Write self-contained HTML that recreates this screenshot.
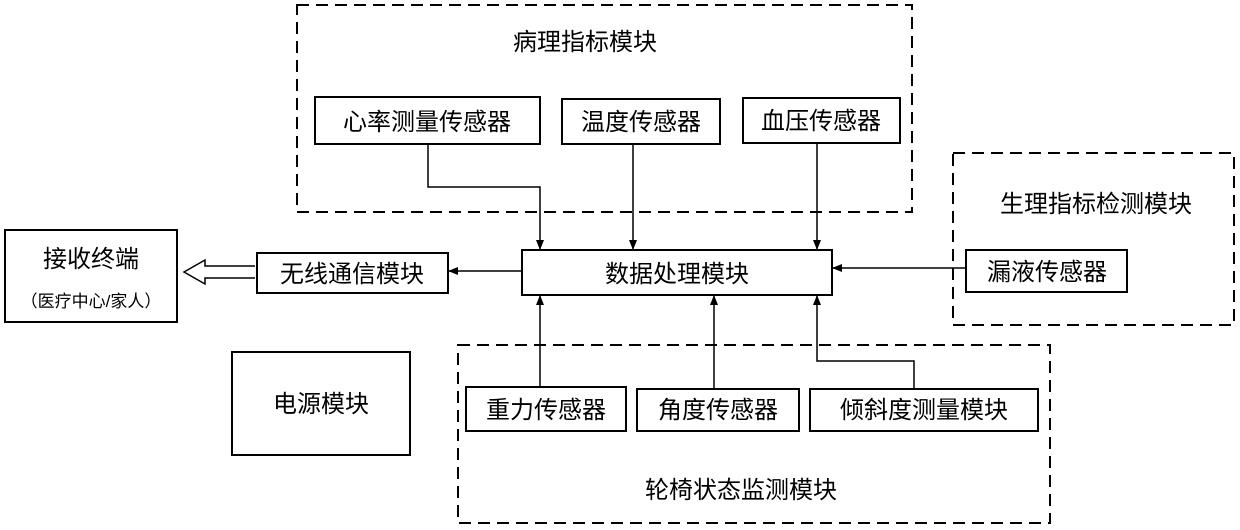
<!DOCTYPE html>
<html><head><meta charset="utf-8"><style>
html,body{margin:0;padding:0;background:#fff;}
svg{display:block;}
text{font-family:"Liberation Sans","Noto Sans CJK SC",sans-serif;fill:#000;}
</style></head><body>
<svg width="1240" height="530" viewBox="0 0 1240 530" xmlns="http://www.w3.org/2000/svg">
<defs>
<marker id="a" markerWidth="10" markerHeight="10" refX="9" refY="5" orient="auto" markerUnits="userSpaceOnUse">
<path d="M0,1 L10,5 L0,9 Z" fill="#000"/></marker>
</defs>
<g fill="none" stroke="#000" stroke-width="2">
<rect x="297" y="5" width="615" height="207" stroke-dasharray="12,7"/>
<rect x="953" y="153" width="281" height="172" stroke-dasharray="12,7"/>
<rect x="458" y="345" width="592" height="178" stroke-dasharray="12,7"/>
<rect x="5" y="230" width="172" height="92"/>
<rect x="257" y="253" width="191" height="40"/>
<rect x="522" y="250" width="310" height="45"/>
<rect x="315" y="97" width="225" height="47"/>
<rect x="562" y="99" width="158" height="45"/>
<rect x="743" y="98" width="157" height="45"/>
<rect x="966" y="250" width="161" height="42"/>
<rect x="466" y="387" width="160" height="44"/>
<rect x="637" y="389" width="162" height="42"/>
<rect x="810" y="389" width="228" height="42"/>
<rect x="232" y="352" width="178" height="103"/>
</g>
<g fill="none" stroke="#000" stroke-width="1.5">
<polyline points="428,144 428,187 540,187 540,249" marker-end="url(#a)"/>
<line x1="633" y1="144" x2="633" y2="249" marker-end="url(#a)"/>
<line x1="817" y1="143" x2="817" y2="249" marker-end="url(#a)"/>
<line x1="522" y1="271" x2="449" y2="271" marker-end="url(#a)"/>
<line x1="966" y1="268" x2="833" y2="268" marker-end="url(#a)"/>
<line x1="540" y1="387" x2="540" y2="296" marker-end="url(#a)"/>
<line x1="714" y1="389" x2="714" y2="296" marker-end="url(#a)"/>
<polyline points="914,389 914,361 817,361 817,296" marker-end="url(#a)"/>
<path d="M255,266 L205,266 L205,260 L184,272 L205,284 L205,278 L255,278" stroke-width="1.5"/>
</g>
<g font-size="24" text-anchor="middle">
<text x="585" y="50">病理指标模块</text>
<text x="427" y="130">心率测量传感器</text>
<text x="641" y="130">温度传感器</text>
<text x="821" y="129">血压传感器</text>
<text x="1096" y="212">生理指标检测模块</text>
<text x="1047" y="280">漏液传感器</text>
<text x="677" y="282">数据处理模块</text>
<text x="352" y="282">无线通信模块</text>
<text x="91" y="267">接收终端</text>
<text x="91" y="307" font-size="17">（医疗中心/家人）</text>
<text x="321" y="412">电源模块</text>
<text x="546" y="418">重力传感器</text>
<text x="718" y="418">角度传感器</text>
<text x="924" y="418">倾斜度测量模块</text>
<text x="741" y="498">轮椅状态监测模块</text>
</g>
</svg>
</body></html>
